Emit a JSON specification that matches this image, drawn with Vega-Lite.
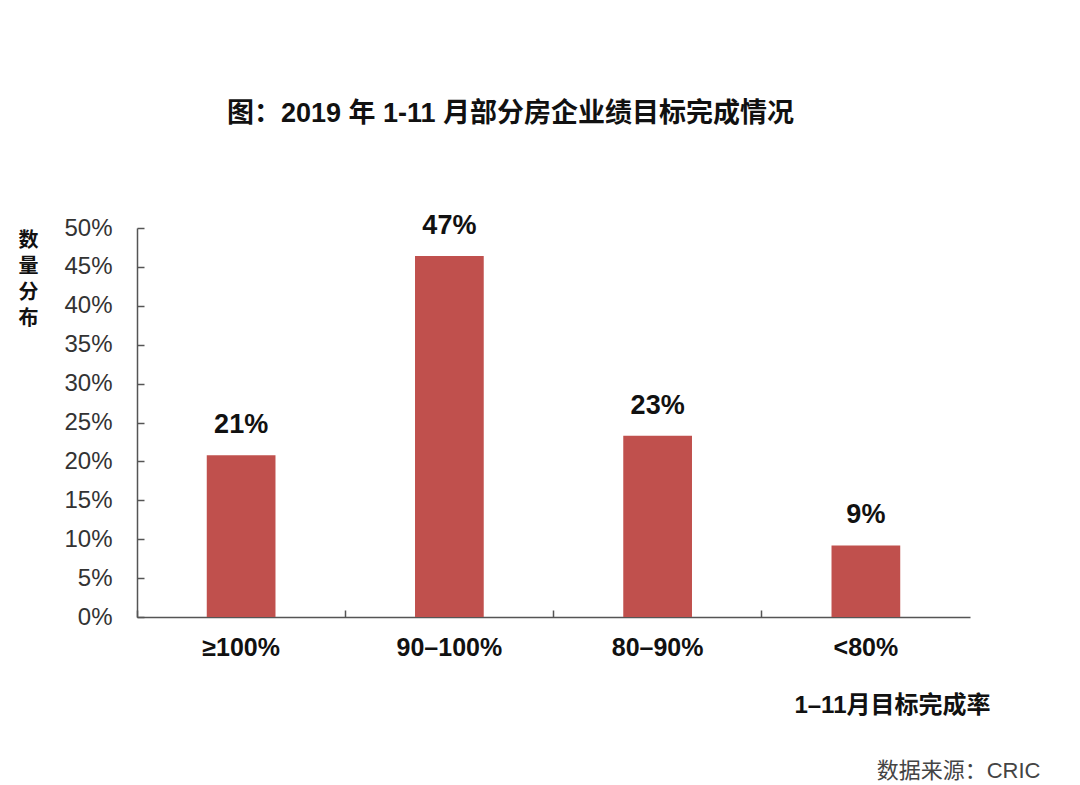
{
  "$schema": "https://vega.github.io/schema/vega-lite/v6.json",
  "width": 833,
  "height": 389,
  "autosize": "none",
  "padding": {"left": 137, "top": 228, "right": 110, "bottom": 168},
  "background": "white",
  "title": {
    "text": "图：2019 年 1-11 月部分房企业绩目标完成情况",
    "font": "Liberation Sans, Noto Sans CJK SC",
    "fontSize": 27,
    "fontWeight": "bold",
    "color": "#111111",
    "anchor": "middle",
    "dx": -43,
    "offset": 84
  },
  "config": {
    "view": {"stroke": null},
    "axis": {"grid": false}
  },
  "data": {
    "values": [
      {"rate": "≥100%", "share": 20.8, "label": "21%"},
      {"rate": "90–100%", "share": 46.4, "label": "47%"},
      {"rate": "80–90%", "share": 23.3, "label": "23%"},
      {"rate": "<80%", "share": 9.2, "label": "9%"}
    ]
  },
  "encoding": {
    "x": {
      "field": "rate",
      "type": "nominal",
      "sort": null,
      "scale": {"paddingInner": 0, "paddingOuter": 0},
      "axis": {
        "title": "1–11月目标完成率",
        "titleFont": "Liberation Sans, Noto Sans CJK SC",
        "titleFontSize": 24,
        "titleFontWeight": "bold",
        "titleColor": "#111111",
        "titleAlign": "right",
        "titleAnchor": null,
        "titleX": 853,
        "titleY": 95,
        "titleBaseline": "alphabetic",
        "labelAngle": 0,
        "labelFont": "Liberation Sans",
        "labelFontSize": 25,
        "labelFontWeight": "bold",
        "labelColor": "#111111",
        "labelPadding": 25,
        "bandPosition": 0,
        "tickSize": -7,
        "tickColor": "#555555",
        "tickWidth": 1.5,
        "domainColor": "#555555",
        "domainWidth": 1.5
      }
    },
    "y": {
      "field": "share",
      "type": "quantitative",
      "scale": {"domain": [0, 50], "nice": false}
    }
  },
  "layer": [
    {
      "mark": {"type": "bar", "width": {"band": 0.33}, "color": "#c0504d"},
      "encoding": {
        "y": {
          "field": "share",
          "type": "quantitative",
          "axis": {
            "values": [0, 5, 10, 15, 20, 25, 30, 35, 40, 45, 50],
            "labelExpr": "datum.value + '%'",
            "labelFont": "Liberation Sans",
            "labelFontSize": 24,
            "labelColor": "#333333",
            "labelPadding": 32,
            "tickSize": -7,
            "tickColor": "#555555",
            "tickWidth": 1.5,
            "domainColor": "#555555",
            "domainWidth": 1.5,
            "title": ["数", "量", "分", "布"],
            "titleFont": "Noto Sans CJK SC",
            "titleFontSize": 20,
            "titleFontWeight": "bold",
            "titleColor": "#111111",
            "titleAngle": 0,
            "titleAlign": "center",
            "titleBaseline": "top",
            "titleLineHeight": 26,
            "titleX": -109,
            "titleY": 2
          }
        }
      }
    },
    {
      "mark": {
        "type": "text",
        "baseline": "alphabetic",
        "dy": -22,
        "font": "Liberation Sans",
        "fontSize": 27,
        "fontWeight": "bold",
        "color": "#111111"
      },
      "encoding": {
        "text": {"field": "label"},
        "y": {
          "field": "share",
          "type": "quantitative",
          "axis": {
            "orient": "right",
            "labels": false,
            "ticks": false,
            "domain": false,
            "title": "数据来源：CRIC",
            "titleFont": "Liberation Sans, Noto Sans CJK SC",
            "titleFontSize": 22,
            "titleFontWeight": "normal",
            "titleColor": "#444444",
            "titleAngle": 0,
            "titleAlign": "right",
            "titleBaseline": "middle",
            "titleX": 70,
            "titleY": 542
          }
        }
      }
    }
  ],
  "resolve": {"axis": {"y": "independent"}}
}
